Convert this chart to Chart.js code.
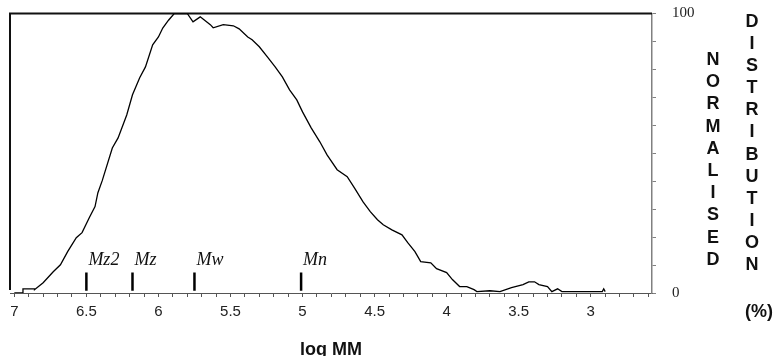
<!DOCTYPE html>
<html>
<head>
<meta charset="utf-8">
<script src="https://cdn.jsdelivr.net/npm/chart.js@4"></script>
<style>
  html, body { margin: 0; padding: 0; background: #fff; }
  #wrap { width: 775px; height: 356px; }
</style>
</head>
<body>
<div id="wrap"><canvas id="chart"></canvas></div>
<script>
// log MM (x) and normalised distribution in % (y)
const logMM = [
  7.00, 6.94, 6.94, 6.86, 6.86, 6.80, 6.73, 6.68, 6.63, 6.57, 6.53, 6.48, 6.44, 6.42, 6.39,
  6.32, 6.28, 6.22, 6.18, 6.13, 6.09, 6.04, 6.00, 5.97, 5.93, 5.89, 5.80, 5.76, 5.71, 5.64,
  5.62, 5.55, 5.48, 5.44, 5.38, 5.35, 5.30, 5.24, 5.19, 5.14, 5.09, 5.04, 5.00, 4.94, 4.88,
  4.83, 4.76, 4.69, 4.64, 4.58, 4.53, 4.48, 4.44, 4.38, 4.31, 4.27, 4.22, 4.18, 4.11, 4.07,
  4.00, 3.96, 3.91, 3.86, 3.81, 3.79, 3.70, 3.63, 3.55, 3.47, 3.43, 3.39, 3.36, 3.30, 3.27,
  3.23, 3.20, 2.92, 2.91, 2.90
];
const normDist = [
  0.0, 0.0, 1.5, 1.5, 1.2, 3.7, 7.6, 10.1, 14.8, 19.8, 21.6, 26.9, 30.9, 35.9, 40.2,
  51.9, 55.5, 63.7, 70.9, 77.0, 80.9, 88.8, 91.6, 94.8, 97.6, 100, 100, 97.0, 98.8, 96.0,
  94.9, 96.0, 95.6, 94.5, 91.6, 90.6, 88.1, 84.2, 80.9, 77.3, 72.7, 69.1, 64.8, 59.1, 54.1,
  49.4, 44.1, 41.6, 37.6, 32.6, 29.1, 26.2, 24.4, 22.6, 20.8, 18.0, 14.8, 11.2, 10.8, 8.7,
  7.3, 4.8, 2.3, 2.3, 1.2, 0.5, 0.8, 0.5, 1.9, 3.0, 4.0, 4.0, 3.0, 2.3, 0.5,
  1.5, 0.5, 0.5, 1.5, 0.5
];

// molar-mass averages marked on the baseline
const momentLabels = ['Mz2', 'Mz', 'Mw', 'Mn'];
const momentLogMM = [6.50, 6.18, 5.75, 5.01];

// axis ticks
const xTicks = [7.0, 6.9, 6.8, 6.7, 6.6, 6.5, 6.4, 6.3, 6.2, 6.1, 6.0, 5.9, 5.8, 5.7, 5.6,
  5.5, 5.4, 5.3, 5.2, 5.1, 5.0, 4.9, 4.8, 4.7, 4.6, 4.5, 4.4, 4.3, 4.2, 4.1, 4.0, 3.9, 3.8,
  3.7, 3.6, 3.5, 3.4, 3.3, 3.2, 3.1, 3.0, 2.9, 2.8, 2.7, 2.6];
const xLabelled = [7, 6.5, 6, 5.5, 5, 4.5, 4, 3.5, 3];
const yTicks = [0, 10, 20, 30, 40, 50, 60, 70, 80, 90, 100];
const yLabelled = [0, 100];

const yTitleLeft = 'NORMALISED';
const yTitleRight = 'DISTRIBUTION';
const yTitleUnit = '(%)';

const curve = logMM.map((x, i) => ({ x, y: normDist[i] }));

const markerSets = momentLogMM.map((x, i) => ({
  label: momentLabels[i],
  data: [{ x, y: 0.8 }, { x, y: 7.3 }],
  borderColor: '#000',
  borderWidth: 2.5,
  pointRadius: 0,
  borderCapStyle: 'butt'
}));

// frame, moment labels and stacked vertical axis title
const decorations = {
  id: 'decorations',
  beforeDatasetsDraw(chart) {
    const { ctx, chartArea: a } = chart;
    ctx.save();
    ctx.strokeStyle = '#111';
    ctx.lineWidth = 2;
    ctx.beginPath();
    ctx.moveTo(a.left, a.bottom - 3);
    ctx.lineTo(a.left, a.top);
    ctx.lineTo(a.right, a.top);
    ctx.stroke();
    ctx.restore();
  },
  afterDraw(chart) {
    const { ctx } = chart;
    const xs = chart.scales.x, ys = chart.scales.y;
    ctx.save();
    ctx.fillStyle = '#111';
    ctx.font = 'italic 18px "Liberation Serif"';
    ctx.textAlign = 'left';
    ctx.textBaseline = 'alphabetic';
    momentLabels.forEach((t, i) => {
      ctx.fillText(t, xs.getPixelForValue(momentLogMM[i]) + 2, ys.getPixelForValue(10));
    });

    ctx.font = 'bold 18px "Liberation Sans"';
    ctx.textAlign = 'center';
    ctx.textBaseline = 'middle';
    const w = chart.width;
    [...yTitleLeft].forEach((c, i) => ctx.fillText(c, w - 62, 60 + i * 22.2));
    [...yTitleRight].forEach((c, i) => ctx.fillText(c, w - 23, 22 + i * 22.1));
    ctx.fillText(yTitleUnit, w - 16, 312);
    ctx.restore();
  }
};

new Chart(document.getElementById('chart'), {
  type: 'line',
  data: {
    datasets: [
      {
        label: 'distribution',
        data: curve,
        borderColor: '#000',
        borderWidth: 1.3,
        pointRadius: 0,
        tension: 0
      },
      ...markerSets
    ]
  },
  options: {
    responsive: true,
    maintainAspectRatio: false,
    animation: false,
    layout: { padding: { left: 10, top: 13.5, right: 0, bottom: 0 } },
    plugins: { legend: { display: false }, tooltip: { enabled: false } },
    scales: {
      x: {
        type: 'linear',
        reverse: true,
        min: 2.575,
        max: 7.03,
        afterBuildTicks: s => { s.ticks = xTicks.map(v => ({ value: v })); },
        afterFit: s => { s.height = 63; s.paddingLeft = 0; s.paddingRight = 0; },
        border: { color: '#555', width: 1 },
        grid: { drawOnChartArea: false, drawTicks: true, tickLength: 4, color: '#555' },
        ticks: {
          autoSkip: false,
          maxRotation: 0,
          padding: 6,
          color: '#222',
          font: { family: '"Liberation Sans"', size: 15 },
          callback: v => xLabelled.some(l => Math.abs(l - v) < 1e-6) ? String(+v.toFixed(1)) : ''
        },
        title: {
          display: true,
          text: 'log MM',
          color: '#111',
          font: { family: '"Liberation Sans"', size: 18, weight: 'bold', lineHeight: 1 },
          padding: { top: 0, bottom: -3 }
        }
      },
      y: {
        position: 'right',
        min: 0,
        max: 100,
        afterBuildTicks: s => { s.ticks = yTicks.map(v => ({ value: v })); },
        afterFit: s => { s.width = 123; s.paddingTop = 0; s.paddingBottom = 0; },
        border: { color: '#808080', width: 1.5 },
        grid: { drawOnChartArea: false, drawTicks: true, tickLength: 4, color: '#808080' },
        ticks: {
          padding: 16,
          color: '#222',
          font: { family: '"Liberation Serif"', size: 15 },
          callback: v => yLabelled.includes(v) ? String(v) : ''
        }
      }
    }
  },
  plugins: [decorations]
});
</script>
</body>
</html>
